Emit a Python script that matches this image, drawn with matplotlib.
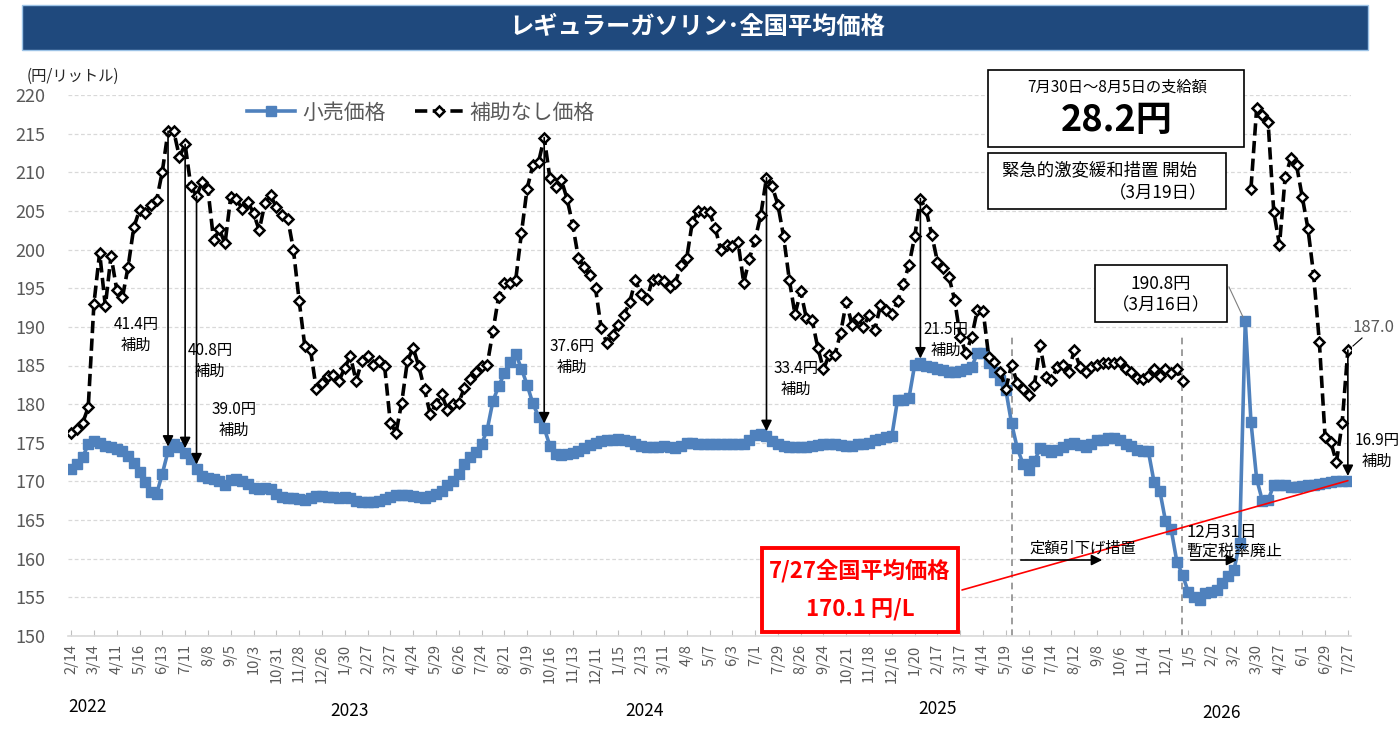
import numpy as np
import matplotlib
matplotlib.use('Agg')
import matplotlib.pyplot as plt
from matplotlib.patches import Rectangle
from matplotlib.lines import Line2D

plt.rcParams['font.family'] = ['Noto Sans CJK JP', 'DejaVu Sans']

# ---------------- data ----------------
tick_labels = ['2/14', '3/14', '4/11', '5/16', '6/13', '7/11', '8/8', '9/5', '10/3', '10/31',
               '11/28', '12/26', '1/30', '2/27', '3/27', '4/24', '5/29', '6/26', '7/24', '8/21',
               '9/19', '10/16', '11/13', '12/11', '1/15', '2/13', '3/11', '4/8', '5/7', '6/3',
               '7/1', '7/29', '8/26', '9/24', '10/21', '11/18', '12/16', '1/20', '2/17', '3/17',
               '4/14', '5/19', '6/16', '7/14', '8/12', '9/8', '10/6', '11/4', '12/1', '1/5',
               '2/2', '3/2', '3/30', '4/27', '6/1', '6/29', '7/27']
years = ['2022', '2023', '2024', '2025', '2026']

retail = [171.6, 172.2, 173.1, 174.8, 175.2, 175.0, 174.6, 174.4, 174.2, 174.0,
          173.3, 172.4, 171.2, 169.9, 168.6, 168.4, 171.0, 173.9, 174.8, 174.4,
          173.7, 172.9, 171.6, 170.7, 170.5, 170.3, 170.0, 169.6, 170.2, 170.3,
          170.0, 169.7, 169.2, 169.0, 169.2, 169.0, 168.4, 168.0, 167.8, 167.9,
          167.7, 167.6, 167.9, 168.1, 168.1, 168.0, 168.0, 167.9, 168.0, 167.8,
          167.5, 167.4, 167.4, 167.4, 167.5, 167.7, 168.0, 168.2, 168.2, 168.2,
          168.1, 168.0, 167.9, 168.1, 168.4, 168.8, 169.5, 170.1, 171.0, 172.2,
          173.1, 173.8, 174.8, 176.7, 180.4, 182.3, 184.0, 185.4, 186.5, 184.6,
          182.5, 180.1, 178.4, 176.9, 174.6, 173.5, 173.4, 173.5, 173.7, 173.9,
          174.3, 174.7, 175.0, 175.2, 175.3, 175.4, 175.5, 175.4, 175.2, 174.9,
          174.6, 174.5, 174.4, 174.5, 174.6, 174.4, 174.3, 174.6, 175.0, 175.0,
          174.9, 174.9, 174.8, 174.8, 174.9, 174.9, 174.8, 174.9, 174.8, 175.3,
          176.0, 176.1, 175.9, 175.2, 174.8, 174.6, 174.5, 174.5, 174.4, 174.5,
          174.6, 174.7, 174.8, 174.9, 174.8, 174.7, 174.6, 174.6, 174.8, 174.9,
          175.0, 175.3, 175.5, 175.7, 175.9, 180.6, 180.6, 180.8, 185.1, 185.3,
          184.9, 184.8, 184.6, 184.4, 184.2, 184.2, 184.3, 184.5, 184.8, 186.6,
          186.6, 185.3, 184.2, 183.1, 181.8, 177.5, 174.3, 172.3, 171.5, 172.6,
          174.3, 174.1, 173.8, 174.1, 174.5, 174.8, 175.0, 174.7, 174.5, 174.9,
          175.3, 175.4, 175.6, 175.6, 175.4, 174.9, 174.6, 174.1, 174.0, 173.9,
          169.9, 168.8, 164.9, 163.8, 159.6, 157.9, 155.7, 155.0, 154.6, 155.5,
          155.7, 155.9, 156.8, 157.7, 158.5, 162.0, 190.8, 177.7, 170.3, 167.5,
          167.6, 169.5, 169.6, 169.5, 169.3, 169.3, 169.4, 169.5, 169.6, 169.7,
          169.8, 169.9, 170.0, 170.0, 170.1]

nan = float('nan')
no_subsidy = [176.3, 176.8, 177.5, 179.6, 193.0, 199.6, 192.7, 199.2, 194.8, 193.8,
              197.8, 202.9, 205.1, 204.7, 205.8, 206.4, 210.1, 215.3, 215.3, 212.0,
              213.6, 208.2, 206.9, 208.8, 207.8, 201.2, 202.6, 200.8, 206.8, 206.5,
              205.3, 206.2, 204.7, 202.5, 206.0, 207.0, 205.5, 204.5, 204.0, 200.0,
              193.4, 187.5, 187.0, 182.0, 182.8, 183.7, 183.8, 183.0, 184.7, 186.2,
              183.0, 185.6, 186.2, 185.1, 185.6, 184.9, 177.6, 176.3, 180.2, 185.6,
              187.3, 184.9, 181.9, 178.7, 180.0, 181.3, 179.3, 180.0, 180.2, 182.1,
              183.2, 184.1, 184.9, 185.1, 189.4, 193.9, 195.7, 195.7, 196.1, 202.1,
              207.9, 210.9, 211.3, 214.5, 209.2, 208.1, 209.0, 206.6, 203.2, 198.9,
              197.8, 196.7, 195.0, 189.8, 187.9, 189.0, 190.3, 191.5, 193.2, 196.0,
              194.3, 193.6, 196.1, 196.2, 195.9, 195.2, 195.7, 198.0, 198.9, 203.6,
              205.0, 204.9, 204.8, 202.8, 199.9, 200.6, 200.4, 201.0, 195.7, 198.8,
              201.3, 204.5, 209.3, 208.2, 205.8, 201.7, 196.1, 191.6, 194.6, 191.1,
              190.9, 187.3, 184.5, 186.4, 186.4, 189.2, 193.2, 190.3, 191.1, 190.0,
              191.5, 189.6, 192.8, 192.2, 191.7, 193.3, 195.6, 198.0, 201.7, 206.6,
              205.1, 201.9, 198.4, 197.6, 196.5, 193.5, 188.7, 186.6, 188.7, 192.2,
              192.1, 186.1, 185.5, 184.2, 182.0, 185.1, 182.7, 181.9, 181.2, 182.5,
              187.6, 183.5, 183.1, 184.8, 185.1, 184.2, 187.0, 184.8, 184.2, 184.8,
              185.1, 185.3, 185.3, 185.3, 185.4, 184.6, 184.2, 183.4, 183.3, 183.6,
              184.5, 183.7, 184.5, 184.0, 184.6, 183.0, nan, nan, nan, nan,
              nan, nan, nan, nan, nan, nan, nan, 207.9, 218.3, 217.4,
              216.5, 204.9, 200.6, 209.4, 211.8, 210.9, 206.8, 202.7, 196.7, 188.0,
              175.8, 175.1, 172.5, 177.6, 187.0]

subsidy_idx = [17, 20, 22, 83, 122, 149, 224]
subsidy_amt = ['41.4', '40.8', '39.0', '37.6', '33.4', '21.5', '16.9']
event_idx = [165, 194.85]

# ---------------- figure ----------------
W, H = 1400, 731
fig = plt.figure(figsize=(14, 7.31), dpi=100)


def fx(x):
    return x / W


def fy(y):
    return 1 - y / H


ax = fig.add_axes([fx(68), fy(636), fx(1351) - fx(68), fy(95) - fy(636)])
x = np.arange(len(retail))
retail_a = np.array(retail)
nos_a = np.array(no_subsidy)

ax.set_xlim(-0.55, len(retail) - 1 + 0.55)
ax.set_ylim(150, 220)
ax.set_yticks(np.arange(150, 221, 5))
ax.tick_params(axis='y', length=0, pad=16, labelsize=13, labelcolor='#595959')
ax.set_xticks(np.arange(0, len(retail), 4))
ax.set_xticklabels(tick_labels, rotation=90, fontsize=10.5, color='#595959')
ax.tick_params(axis='x', direction='in', length=4, color='#bfbfbf', pad=6)
ax.yaxis.grid(True, color='#d9d9d9', linestyle=(0, (3, 2)), lw=0.9)
ax.set_axisbelow(True)
for s in ['top', 'right', 'left']:
    ax.spines[s].set_visible(False)
ax.spines['bottom'].set_color('#d9d9d9')
ax.spines['bottom'].set_linewidth(1.2)

blue = '#4f81bd'
ax.plot(x, retail_a, color=blue, lw=2.6, marker='s', ms=7.8, mfc=blue, mec=blue, zorder=3)
ax.plot(x, nos_a, color='black', lw=2.6, dashes=(3.4, 1.5), marker='D', ms=5.2,
        mfc='white', mec='black', mew=1.8, zorder=4)

# event dashed lines
for e in event_idx:
    ax.plot([e, e], [150, 189.2], color='#8c8c8c', lw=1.2, dashes=(4, 3), zorder=2)

# subsidy arrows
for i in subsidy_idx:
    ax.annotate('', xy=(i, retail_a[i] + 0.6), xytext=(i, nos_a[i]),
                arrowprops=dict(arrowstyle='-|>', color='black', lw=1.2,
                                mutation_scale=16, shrinkA=0, shrinkB=0), zorder=5)

sub_pos = [(136, 335), (210, 361), (234, 420), (572, 357), (796, 379), (946, 340), (1377, 451)]
for amt, (px_, py_) in zip(subsidy_amt, sub_pos):
    fig.text(fx(px_), fy(py_), amt + '円\n補助', ha='center', va='center', fontsize=11,
             linespacing=1.3, color='black')

# 187.0 label
fig.text(fx(1373), fy(327), '187.0', ha='center', va='center', fontsize=12, color='#595959')
fig.add_artist(Line2D([fx(1353), fx(1362)], [fy(346), fy(338)], color='black', lw=0.8))

# legend
handles = [Line2D([], [], color=blue, lw=2.6, marker='s', ms=7.8, mfc=blue, mec=blue),
           Line2D([], [], color='black', lw=2.6, dashes=(3.4, 1.5), marker='D', ms=5.2,
                  mfc='white', mec='black', mew=1.8)]
fig.legend(handles, ['小売価格', '補助なし価格'], loc='upper left',
           bbox_to_anchor=(fx(228), fy(83)), ncol=2, frameon=False, fontsize=15,
           handlelength=2.3, columnspacing=1.4, handletextpad=0.35, labelcolor='#595959')

# unit label
fig.text(fx(27), fy(76), '(円/リットル)', ha='left', va='center', fontsize=11, color='#262626')

# year labels
year_pos = [(88, 707), (350, 711), (645, 711), (938, 709), (1222, 713)]
for yl, (px_, py_) in zip(years, year_pos):
    fig.text(fx(px_), fy(py_), yl, ha='center', va='center', fontsize=12.5, color='black')

# title bar
fig.add_artist(Rectangle((fx(22), fy(50)), fx(1368) - fx(22), fy(5) - fy(50),
                         transform=fig.transFigure, facecolor='#1f497d', edgecolor='#9dc3e6', lw=1))
fig.text(fx(697), fy(27), 'レギュラーガソリン･全国平均価格', ha='center', va='center',
         fontsize=17.5, weight='bold', color='white')


def box(x0, y0, x1, y1, ec='black', lw=1.2):
    fig.add_artist(Rectangle((fx(x0), fy(y1)), fx(x1) - fx(x0), fy(y0) - fy(y1),
                             transform=fig.transFigure, facecolor='white', edgecolor=ec, lw=lw,
                             zorder=6))


box(988, 70, 1244, 147)
fig.text(fx(1117), fy(87), '7月30日～8月5日の支給額', ha='center', va='center', fontsize=11, zorder=7)
fig.text(fx(1117), fy(121), '28.2円', ha='center', va='center', fontsize=26, weight='bold', zorder=7)

box(988, 153, 1226, 209)
fig.text(fx(1002), fy(170), '緊急的激変緩和措置 開始', ha='left', va='center', fontsize=12.5, zorder=7)
fig.text(fx(1158), fy(193), '（3月19日）', ha='center', va='center', fontsize=12.5, zorder=7)

box(1095, 265, 1227, 322)
fig.text(fx(1161), fy(284), '190.8円', ha='center', va='center', fontsize=12.5, zorder=7)
fig.text(fx(1161), fy(305), '（3月16日）', ha='center', va='center', fontsize=12.5, zorder=7)
fig.add_artist(Line2D([fx(1229), fx(1243)], [fy(287), fy(317)], color='#7f7f7f', lw=0.8))

# red box
ax.annotate('', xy=(len(retail) - 1, retail_a[-1]), xycoords='data',
            xytext=(962, H - 590), textcoords='figure pixels',
            arrowprops=dict(arrowstyle='-', color='red', lw=1.2, shrinkA=0, shrinkB=0), zorder=5)
box(762, 548, 958, 632, ec='red', lw=2.8)
fig.text(fx(860), fy(571), '7/27全国平均価格', ha='center', va='center', fontsize=16,
         weight='bold', color='red', zorder=7)
fig.text(fx(860), fy(609), '170.1 円/L', ha='center', va='center', fontsize=16,
         weight='bold', color='red', zorder=7)

# policy arrows
fig.text(fx(1083), fy(548), '定額引下げ措置', ha='center', va='center', fontsize=11)
fig.add_artist(matplotlib.patches.FancyArrowPatch((fx(1018), fy(560)), (fx(1105), fy(560)),
                                                  transform=fig.transFigure, arrowstyle='-|>',
                                                  mutation_scale=16, color='black', lw=1.2))
fig.text(fx(1186), fy(532), '12月31日', ha='left', va='center', fontsize=12)
fig.text(fx(1186), fy(551), '暫定税率廃止', ha='left', va='center', fontsize=11.5)
fig.add_artist(matplotlib.patches.FancyArrowPatch((fx(1188), fy(560)), (fx(1240), fy(560)),
                                                  transform=fig.transFigure, arrowstyle='-|>',
                                                  mutation_scale=16, color='black', lw=1.2))

fig.savefig('out.png', dpi=100)
